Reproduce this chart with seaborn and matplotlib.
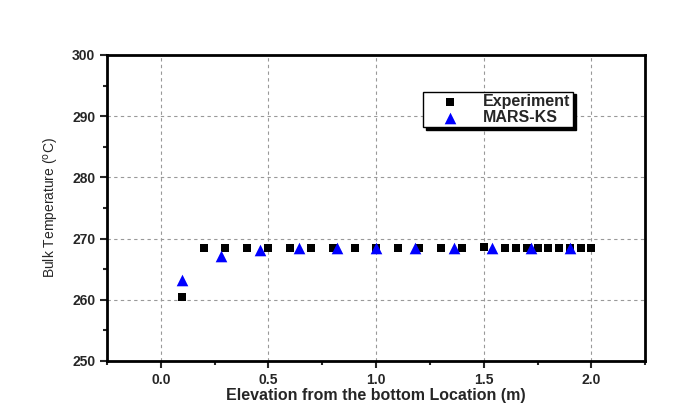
import matplotlib
matplotlib.use("Agg")
import matplotlib.pyplot as plt
import seaborn as sns
import pandas as pd
from matplotlib.ticker import MultipleLocator

exp_x = [0.1, 0.2, 0.3, 0.4, 0.5, 0.6, 0.7, 0.8, 0.9, 1.0, 1.1, 1.2, 1.3, 1.4,
         1.5, 1.6, 1.65, 1.7, 1.75, 1.8, 1.85, 1.9, 1.95, 2.0]
exp_y = [260.4, 268.4, 268.5, 268.5, 268.5, 268.5, 268.5, 268.5, 268.5, 268.5,
         268.5, 268.5, 268.5, 268.5, 268.7, 268.5, 268.5, 268.5, 268.5, 268.5,
         268.5, 268.5, 268.5, 268.5]
mars_x = [0.1, 0.28, 0.46, 0.64, 0.82, 1.0, 1.18, 1.36, 1.54, 1.72, 1.9]
mars_y = [263.2, 267.2, 268.2, 268.4, 268.5, 268.5, 268.5, 268.5, 268.5, 268.5, 268.5]

sns.set_style("white")
plt.rcParams['font.family'] = ['Liberation Sans', 'DejaVu Sans']

fig = plt.figure(figsize=(6.9, 4.13), dpi=100)
ax = fig.add_axes([0.155, 0.126, 0.78, 0.741])

df_exp = pd.DataFrame({"x": exp_x, "y": exp_y})
df_mars = pd.DataFrame({"x": mars_x, "y": mars_y})
sns.scatterplot(data=df_exp, x="x", y="y", marker="s", color="black", s=38,
                edgecolor="black", linewidth=0, ax=ax, label="Experiment", zorder=3)
sns.scatterplot(data=df_mars, x="x", y="y", marker="^", color="#0000ff", s=70,
                edgecolor="#0000ff", linewidth=0, ax=ax, label="MARS-KS", zorder=4)

ax.set_xlim(-0.25, 2.25)
ax.set_ylim(250, 300)
ax.xaxis.set_major_locator(MultipleLocator(0.5))
ax.xaxis.set_minor_locator(MultipleLocator(0.25))
ax.yaxis.set_major_locator(MultipleLocator(10))
ax.yaxis.set_minor_locator(MultipleLocator(5))
ax.set_xticks([0.0, 0.5, 1.0, 1.5, 2.0])
ax.set_xticklabels(["0.0", "0.5", "1.0", "1.5", "2.0"])

ax.grid(True, which="major", linestyle=(0, (3, 3)), color="#999999", linewidth=0.8)
for sp in ax.spines.values():
    sp.set_linewidth(2.0)
    sp.set_color("black")
ax.tick_params(which="major", direction="out", length=5, width=1.5, left=True, bottom=True,
               labelsize=10)
ax.tick_params(which="minor", direction="out", length=3, width=1.5, left=True, bottom=True)
for lab in ax.get_xticklabels() + ax.get_yticklabels():
    lab.set_fontweight("bold")

ax.set_xlabel("Elevation from the bottom Location (m)", fontsize=11.5, fontweight="bold",
              labelpad=1)
ax.set_ylabel("Bulk Temperature ($^{\\rm o}$C)", fontsize=10, labelpad=8)

leg = ax.legend(loc="upper left", bbox_to_anchor=(0.588, 0.88), frameon=True,
                fancybox=False, shadow={"color": "black", "alpha": 1},
                prop={"weight": "bold", "size": 11.5}, borderpad=0.15,
                labelspacing=0.05, handlelength=3.0, handletextpad=0.6, borderaxespad=0)
leg.get_frame().set_edgecolor("black")
leg.get_frame().set_linewidth(1.0)

fig.savefig("out.png", dpi=100)
